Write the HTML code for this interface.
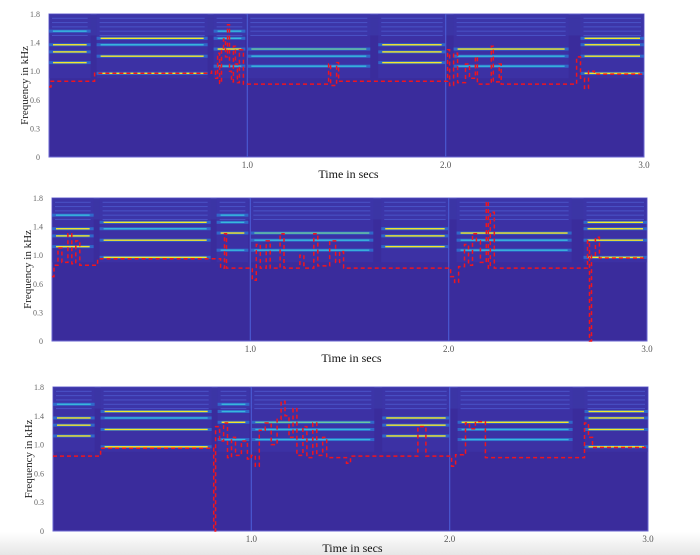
<!DOCTYPE html>
<html><head><meta charset="utf-8">
<style>
html,body{margin:0;padding:0;background:#fff;}
body{width:700px;height:555px;overflow:hidden;position:relative;}
svg{position:absolute;left:0;top:0;}
text{font-family:"Liberation Serif",serif;}
</style></head>
<body>
<div style="position:absolute;left:0;top:532px;width:700px;height:23px;background:linear-gradient(#fff,#e6e6e6);"></div>
<svg id="chart" width="700" height="555" xmlns="http://www.w3.org/2000/svg"></svg>
<script>
// ---- data ----
const yTicks = [0, 0.3, 0.6, 1.0, 1.4, 1.8];
const yTickLabels = ["0", "0.3", "0.6", "1.0", "1.4", "1.8"];
const xTicks = [1.0, 2.0, 3.0];
const xTickLabels = ["1.0", "2.0", "3.0"];
const segStarts = [0, 0.24, 0.83, 1.0, 1.66, 2.04, 2.68];
const segEnds   = [0.21, 0.80, 0.99, 1.62, 2.0, 2.62, 3.0];
const segBands = [
  [[1.56,'c'],[1.37,'y'],[1.27,'y'],[1.12,'y']],
  [[1.46,'y'],[1.37,'c'],[1.21,'y'],[0.97,'y']],
  [[1.56,'c'],[1.46,'c'],[1.31,'y'],[1.07,'c']],
  [[1.31,'g'],[1.21,'c'],[1.07,'c']],
  [[1.37,'y'],[1.27,'y'],[1.12,'y']],
  [[1.31,'y'],[1.21,'c'],[1.07,'c']],
  [[1.46,'y'],[1.37,'y'],[1.21,'y'],[0.97,'y']]
];
const faintFreqs = [1.50, 1.56, 1.62, 1.68, 1.74];
const pitch1 = [[0,0.78],[0.01,0.86],[0.23,0.86],[0.23,0.97],[0.80,0.97],[0.82,1.0],[0.84,0.9],[0.85,1.25],[0.86,0.83],[0.87,1.3],[0.88,1.45],[0.89,1.2],[0.9,1.65],[0.91,1.0],[0.92,0.85],[0.93,1.35],[0.94,1.1],[0.95,0.84],[0.96,1.3],[0.98,0.82],[1.4,0.82],[1.41,1.1],[1.42,0.8],[1.45,1.12],[1.46,0.86],[2.0,0.86],[2.01,1.3],[2.02,0.8],[2.04,1.25],[2.06,0.84],[2.1,1.1],[2.12,0.9],[2.15,1.2],[2.16,0.82],[2.23,1.35],[2.24,0.85],[2.27,1.1],[2.28,0.82],[2.65,0.82],[2.66,1.2],[2.68,0.9],[2.7,0.76],[2.72,1.0],[2.75,0.96],[3.0,0.96]];
const pitch2 = [[0,0.7],[0.01,0.86],[0.03,1.1],[0.05,0.9],[0.08,1.3],[0.1,0.88],[0.12,1.2],[0.14,0.86],[0.22,0.86],[0.23,0.95],[0.83,0.95],[0.85,0.82],[0.87,1.3],[0.88,0.82],[1.0,0.82],[1.01,0.65],[1.03,1.15],[1.05,0.82],[1.08,1.2],[1.1,0.82],[1.15,1.3],[1.17,0.82],[1.25,1.0],[1.27,0.82],[1.32,1.3],[1.34,0.85],[1.4,1.2],[1.43,0.9],[1.45,1.05],[1.47,0.82],[2.0,0.82],[2.01,0.7],[2.03,0.62],[2.05,0.84],[2.08,1.15],[2.1,0.86],[2.12,1.3],[2.14,1.2],[2.16,0.9],[2.19,1.75],[2.2,0.82],[2.21,1.6],[2.23,0.82],[2.68,0.82],[2.7,1.2],[2.71,0],[2.72,1.0],[2.74,1.25],[2.76,0.96],[3.0,0.96]];
const pitch3 = [[0,0.84],[0.21,0.84],[0.24,0.95],[0.80,0.95],[0.81,0],[0.82,1.25],[0.84,1.05],[0.86,1.3],[0.88,0.82],[0.9,1.1],[0.92,0.85],[0.95,1.05],[0.98,0.8],[1.0,0.85],[1.02,0.7],[1.04,1.2],[1.07,1.3],[1.1,1.0],[1.13,1.35],[1.15,1.6],[1.17,1.4],[1.19,1.1],[1.21,1.5],[1.23,0.85],[1.26,1.25],[1.28,0.82],[1.31,1.3],[1.33,0.85],[1.36,1.1],[1.38,0.82],[1.45,0.82],[1.48,0.74],[1.5,0.84],[1.83,0.84],[1.84,1.25],[1.87,1.25],[1.88,0.84],[2.0,0.84],[2.01,0.7],[2.03,0.86],[2.07,0.88],[2.08,1.3],[2.1,1.22],[2.13,1.32],[2.17,1.32],[2.18,0.82],[2.66,0.82],[2.68,1.3],[2.7,1.1],[2.72,0.96],[3.0,0.96]];
const panels = [
  {x:49, y:14, w:595, h:143, pitch:pitch1},
  {x:52, y:198, w:595, h:143, pitch:pitch2},
  {x:53, y:387, w:595, h:144, pitch:pitch3}
];
// ---- drawing ----
const NS = "http://www.w3.org/2000/svg";
const svg = document.getElementById('chart');
function mk(tag, attrs, parent){
  const e = document.createElementNS(NS, tag);
  for (const k in attrs) e.setAttribute(k, attrs[k]);
  (parent||svg).appendChild(e);
  return e;
}
const bandCol = {y:'#f4e62c', c:'#38b8dc', g:'#6cc8a0'};
panels.forEach((p, pi) => {
  const g = mk('g', {});
  
  
  const xs = t => p.x + t / 3 * p.w;
  const ys = f => {
    let i = 0;
    while (i < yTicks.length - 2 && f > yTicks[i+1]) i++;
    const fr = (f - yTicks[i]) / (yTicks[i+1] - yTicks[i]);
    return p.y + p.h - (i + fr) * p.h / (yTicks.length - 1);
  };
  const bg = mk('rect', {x:p.x, y:p.y, width:p.w, height:p.h, fill:'#3a2c9c', stroke:'#6a66d0', 'stroke-width':1}, g);
  
  
  mk('rect', {x:p.x, y:p.y, width:p.w, height:ys(1.5)-p.y, fill:'#4048b8', opacity:0.35}, g);
  segStarts.forEach((s, si) => {
    const e = segEnds[si];
    mk('rect', {x:xs(s), y:ys(1.8), width:xs(e)-xs(s), height:ys(0.9)-ys(1.8), fill:'#3d36ac', opacity:0.5}, g);
    faintFreqs.forEach(f => {
      mk('rect', {x:xs(s)+3, y:ys(f)-0.5, width:xs(e)-xs(s)-6, height:1, fill:'#5468dc', opacity:0.6}, g);
    });
    segBands[si].forEach(b => {
      const band = mk('rect', {x:xs(s), y:ys(b[0])-1.5, width:xs(e)-xs(s), height:3, fill:'#2b7fd8', opacity:0.7}, g);
      
      
      mk('rect', {x:xs(s)+4, y:ys(b[0])-0.7, width:xs(e)-xs(s)-8, height:1.4, fill: bandCol[b[1]]}, g);
    });
  });
  [1.0, 2.0].forEach(t => mk('rect', {x:xs(t)-0.6, y:p.y, width:1.2, height:p.h, fill:'#4a58d0'}, g));
  // pitch line (step form: vertical jumps)
  let pts = [];
  p.pitch.forEach((d, i) => {
    if (i > 0) pts.push(xs(d[0]).toFixed(1) + ',' + ys(p.pitch[i-1][1]).toFixed(1));
    pts.push(xs(d[0]).toFixed(1) + ',' + ys(d[1]).toFixed(1));
  });
  const pl = mk('polyline', {points:pts.join(' '), fill:'none', stroke:'#f0141e', 'stroke-width':1.5, 'stroke-dasharray':'4 3'}, g);
  
  
  yTicks.forEach((v, i) => {
    const t = mk('text', {x:p.x-9, y:ys(v)+3, 'font-size':8, fill:'#666', 'text-anchor':'end'}, g);
    t.textContent = yTickLabels[i];
    
    
  });
  xTicks.forEach((v, i) => {
    const t = mk('text', {x:xs(v), y:p.y+p.h+11, 'font-size':9, fill:'#555', 'text-anchor':'middle'}, g);
    t.textContent = xTickLabels[i];
    
    
  });
  const yt = mk('text', {x:0, y:0, 'font-size':11, fill:'#222', 'text-anchor':'middle', transform:'translate(' + (p.x-21) + ',' + (p.y+p.h/2) + ') rotate(-90)'}, g);
  yt.textContent = 'Frequency in kHz';
  
  
  const xt = mk('text', {x:p.x+p.w/2+2, y:p.y+p.h+21, 'font-size':12, fill:'#111', 'text-anchor':'middle'}, g);
  xt.textContent = 'Time in secs';
  
  
});
</script>
</body></html>
